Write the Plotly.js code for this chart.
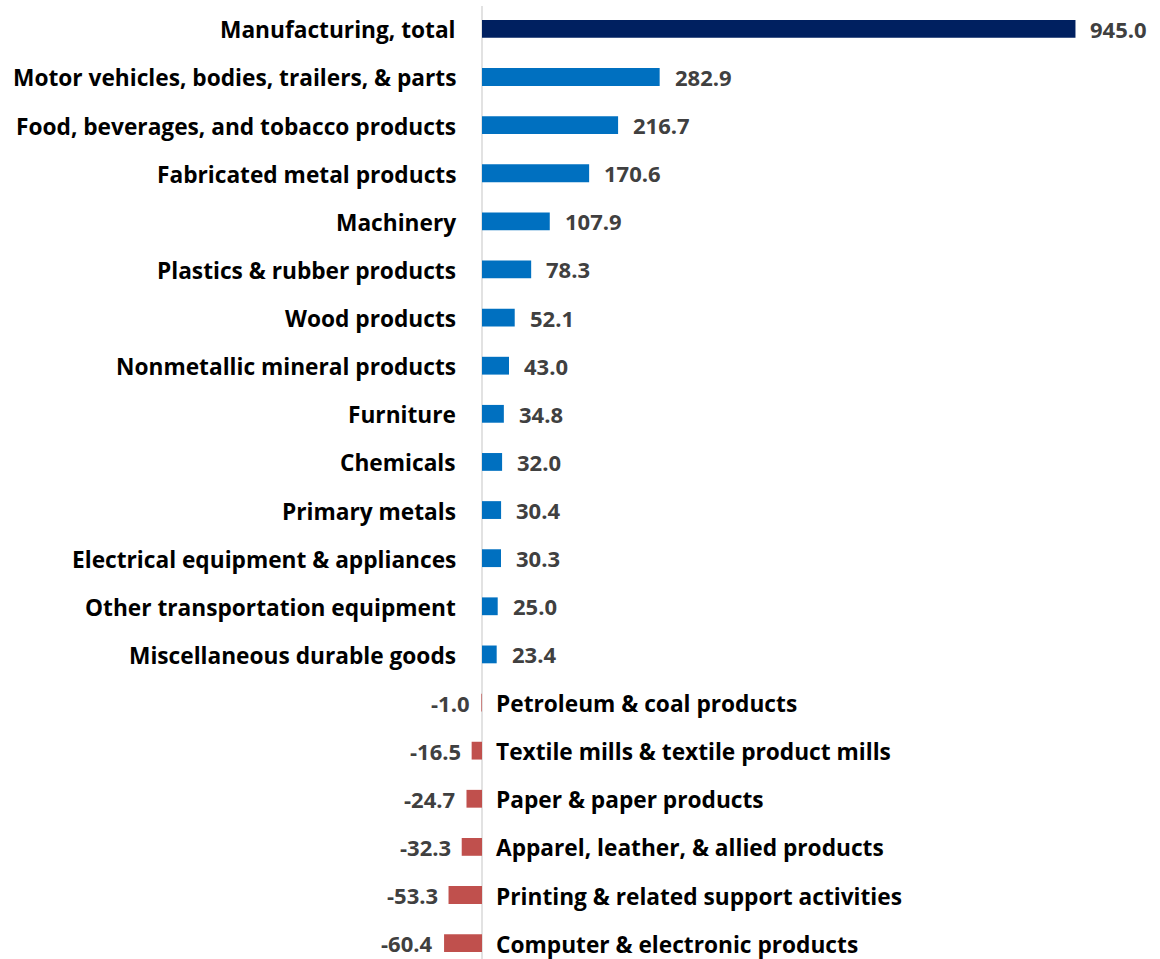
<!DOCTYPE html>
<html>
<head>
<meta charset="utf-8">
<script src="https://cdn.plot.ly/plotly-3.0.1.min.js"></script>
<style>html,body{margin:0;padding:0;background:#fff;}#chart{width:1160px;height:959px;}</style>
</head>
<body>
<div id="chart"></div>
<script>
const categories = [
  "Manufacturing, total",
  "Motor vehicles, bodies, trailers, & parts",
  "Food, beverages, and tobacco products",
  "Fabricated metal products",
  "Machinery",
  "Plastics & rubber products",
  "Wood products",
  "Nonmetallic mineral products",
  "Furniture",
  "Chemicals",
  "Primary metals",
  "Electrical equipment & appliances",
  "Other transportation equipment",
  "Miscellaneous durable goods",
  "Petroleum & coal products",
  "Textile mills & textile product mills",
  "Paper & paper products",
  "Apparel, leather, & allied products",
  "Printing & related support activities",
  "Computer & electronic products"
];
const values = [945.0, 282.9, 216.7, 170.6, 107.9, 78.3, 52.1, 43.0, 34.8, 32.0, 30.4, 30.3, 25.0, 23.4, -1.0, -16.5, -24.7, -32.3, -53.3, -60.4];

const COL_TOTAL = "#002060", COL_POS = "#0070C0", COL_NEG = "#C0504D";
const colors = values.map((v, i) => i === 0 ? COL_TOTAL : (v >= 0 ? COL_POS : COL_NEG));

const FONT = "Open Sans, Liberation Sans, sans-serif";
const annotations = [];
categories.forEach((c, i) => {
  const v = values[i];
  const pos = v >= 0;
  annotations.push({
    x: 0, y: c, xref: "x", yref: "y", text: c, showarrow: false,
    xanchor: pos ? "right" : "left", xshift: pos ? -24 : 12, yshift: -1,
    font: {family: FONT, size: 22.7, color: "#000000", weight: "bold"}
  });
  annotations.push({
    x: v, y: c, xref: "x", yref: "y", text: v.toFixed(1), showarrow: false,
    xanchor: pos ? "left" : "right", xshift: pos ? 13 : -9,
    font: {family: FONT, size: 22, color: "#404040", weight: "bold"}
  });
});

const trace = {
  type: "bar", orientation: "h",
  x: values, y: categories,
  marker: {color: colors},
  width: 0.37,
  hoverinfo: "skip"
};

const layout = {
  width: 1160, height: 959,
  margin: {l: 0, r: 0, t: 0, b: 0},
  paper_bgcolor: "#ffffff", plot_bgcolor: "#ffffff",
  showlegend: false,
  xaxis: {range: [-767.5, 1079.6], showgrid: false, zeroline: false, showticklabels: false, showline: false, fixedrange: true},
  yaxis: {type: "category", categoryorder: "array", categoryarray: categories,
          range: [19.33, -0.6], showgrid: false, zeroline: false, showticklabels: false, showline: false, fixedrange: true},
  shapes: [{type: "line", xref: "x", yref: "paper", x0: 0, x1: 0, y0: 0, y1: 1 - 6/959,
            line: {color: "#D9D9D9", width: 1.5}, layer: "below"}],
  annotations: annotations
};

Plotly.newPlot("chart", [trace], layout, {displayModeBar: false, staticPlot: true});
</script>
</body>
</html>
